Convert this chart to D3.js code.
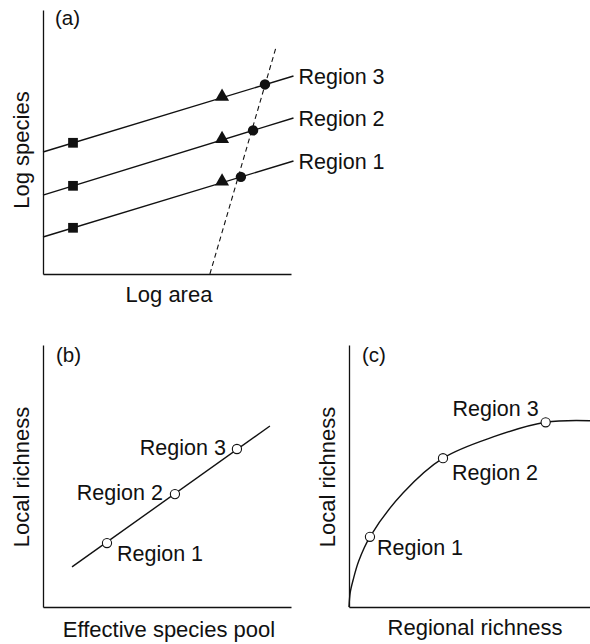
<!DOCTYPE html>
<html>
<head>
<meta charset="utf-8">
<script src="https://cdn.jsdelivr.net/npm/d3@7"></script>
<style>
  html, body { margin: 0; padding: 0; background: #fff; }
  svg { display: block; }
  text { font-family: "Liberation Sans", Arial, Helvetica, sans-serif; fill: #111; }
</style>
</head>
<body>
<svg id="chart" width="590" height="644"></svg>
<script>
// ---- data -------------------------------------------------------------
const regions = ["Region 1", "Region 2", "Region 3"];

// (a) species–area lines, one per region (log area vs log species, arbitrary units)
const areaLineX = [0, 101];
const areaLineStartY = [14.0, 29.9, 46.2];
const areaLineEndY = [42.8, 59.1, 75.0];
const squareX = 12.1;
const squareY = [17.5, 33.4, 49.7];
const triangleX = 72.2;
const triangleY = [34.7, 50.8, 66.8];
const circleX = [79.8, 84.7, 89.5];
const circleY = [36.8, 54.4, 71.8];
const dashedX = [67.3, 94.0];
const dashedY = [0, 86.0];

// (b) local richness vs effective species pool
const poolLineX = [11.7, 91.5];
const poolLineY = [15.3, 69.1];
const poolX = [25.8, 53.2, 78.2];
const poolLocal = [24.4, 43.1, 60.3];

// (c) local richness vs regional richness (saturating curve)
const curveRegional = [0, 0.5, 1.7, 4.0, 8.7, 22.4, 39.0, 59.8, 81.6, 100];
const curveLocal = [0, 5.5, 10.3, 17.5, 26.8, 43.5, 56.8, 64.9, 70.5, 71.1];
const satX = [8.7, 39.0, 81.6];
const satLocal = [26.8, 56.8, 70.5];

// ---- drawing ----------------------------------------------------------
const svg = d3.select("#chart");
const TITLE_FS = 22;
const LABEL_FS = 21.5;

function axes(g, x, y) {
  g.append("g")
    .attr("transform", `translate(0,${y.range()[0]})`)
    .call(d3.axisBottom(x).ticks(0).tickSizeOuter(0));
  g.append("g")
    .attr("transform", `translate(${x.range()[0]},0)`)
    .call(d3.axisLeft(y).ticks(0).tickSizeOuter(0));
  g.selectAll(".domain").attr("stroke", "#111").attr("stroke-width", 1.3);
}

function yTitle(g, text, xPos, yMid) {
  g.append("text")
    .attr("transform", `translate(${xPos},${yMid}) rotate(-90)`)
    .attr("text-anchor", "middle")
    .attr("font-size", TITLE_FS)
    .text(text);
}
function xTitle(g, text, xMid, yPos) {
  g.append("text")
    .attr("x", xMid).attr("y", yPos)
    .attr("text-anchor", "middle")
    .attr("font-size", TITLE_FS)
    .text(text);
}
function panelTag(g, text, xPos, yPos) {
  g.append("text").attr("x", xPos).attr("y", yPos)
    .attr("font-size", 20.5).text(text);
}

// ---------- panel (a) ----------
{
  const g = svg.append("g");
  const x = d3.scaleLinear().domain([0, 100]).range([43, 291]);
  const y = d3.scaleLinear().domain([0, 100]).range([274, 10]);
  axes(g, x, y);

  const line = d3.line().x(d => x(d[0])).y(d => y(d[1]));
  regions.forEach((r, i) => {
    const pts = [[areaLineX[0], areaLineStartY[i]], [areaLineX[1], areaLineEndY[i]]];
    g.append("path").attr("d", line(pts))
      .attr("fill", "none").attr("stroke", "#111").attr("stroke-width", 1.4);
    g.append("text")
      .attr("x", x(areaLineX[1]) + 5).attr("y", y(areaLineEndY[i]))
      .attr("dy", "0.35em").attr("font-size", LABEL_FS).text(r);
  });

  g.append("path")
    .attr("d", line(dashedX.map((v, i) => [v, dashedY[i]])))
    .attr("fill", "none").attr("stroke", "#111").attr("stroke-width", 1.1)
    .attr("stroke-dasharray", "5,3.5");

  g.selectAll(".sq").data(squareY).join("path")
    .attr("d", d3.symbol(d3.symbolSquare, 95))
    .attr("transform", d => `translate(${x(squareX)},${y(d)})`)
    .attr("fill", "#111");
  g.selectAll(".tri").data(triangleY).join("path")
    .attr("d", d3.symbol(d3.symbolTriangle, 85))
    .attr("transform", d => `translate(${x(triangleX)},${y(d) - 1})`)
    .attr("fill", "#111");
  g.selectAll(".dot").data(circleY).join("circle")
    .attr("cx", (d, i) => x(circleX[i])).attr("cy", d => y(d))
    .attr("r", 5.2).attr("fill", "#111");

  panelTag(g, "(a)", 55, 25);
  yTitle(g, "Log species", 29, 150);
  xTitle(g, "Log area", 169, 302);
}

function openDots(g, xs, ys, x, y) {
  g.selectAll(".od").data(xs).join("circle")
    .attr("cx", d => x(d)).attr("cy", (d, i) => y(ys[i]))
    .attr("r", 4.6).attr("fill", "#fff").attr("stroke", "#111").attr("stroke-width", 1.1);
}

// ---------- panel (b) ----------
{
  const g = svg.append("g");
  const x = d3.scaleLinear().domain([0, 100]).range([43, 291]);
  const y = d3.scaleLinear().domain([0, 100]).range([607, 345]);
  axes(g, x, y);
  const line = d3.line().x(d => x(d[0])).y(d => y(d[1]));
  g.append("path").attr("d", line(poolLineX.map((v, i) => [v, poolLineY[i]])))
    .attr("fill", "none").attr("stroke", "#111").attr("stroke-width", 1.4);
  openDots(g, poolX, poolLocal, x, y);

  const off = [[10, 10, "start"], [-12, -2, "end"], [-11, -2, "end"]];
  regions.forEach((r, i) => {
    g.append("text")
      .attr("x", x(poolX[i]) + off[i][0]).attr("y", y(poolLocal[i]) + off[i][1])
      .attr("dy", "0.35em").attr("text-anchor", off[i][2])
      .attr("font-size", LABEL_FS).text(r);
  });

  panelTag(g, "(b)", 56, 362);
  yTitle(g, "Local richness", 29, 477);
  xTitle(g, "Effective species pool", 169, 637);
}

// ---------- panel (c) ----------
{
  const g = svg.append("g");
  const x = d3.scaleLinear().domain([0, 100]).range([349, 590]);
  const y = d3.scaleLinear().domain([0, 100]).range([607, 345]);
  axes(g, x, y);
  const line = d3.line().x(d => x(d[0])).y(d => y(d[1])).curve(d3.curveCatmullRom.alpha(0.5));
  g.append("path").attr("d", line(curveRegional.map((v, i) => [v, curveLocal[i]])))
    .attr("fill", "none").attr("stroke", "#111").attr("stroke-width", 1.4);
  openDots(g, satX, satLocal, x, y);

  const off = [[7, 11, "start"], [9, 14, "start"], [-7, -14, "end"]];
  regions.forEach((r, i) => {
    g.append("text")
      .attr("x", x(satX[i]) + off[i][0]).attr("y", y(satLocal[i]) + off[i][1])
      .attr("dy", "0.35em").attr("text-anchor", off[i][2])
      .attr("font-size", LABEL_FS).text(r);
  });

  panelTag(g, "(c)", 362, 362);
  yTitle(g, "Local richness", 335, 477);
  xTitle(g, "Regional richness", 475, 635);
}
</script>
</body>
</html>
